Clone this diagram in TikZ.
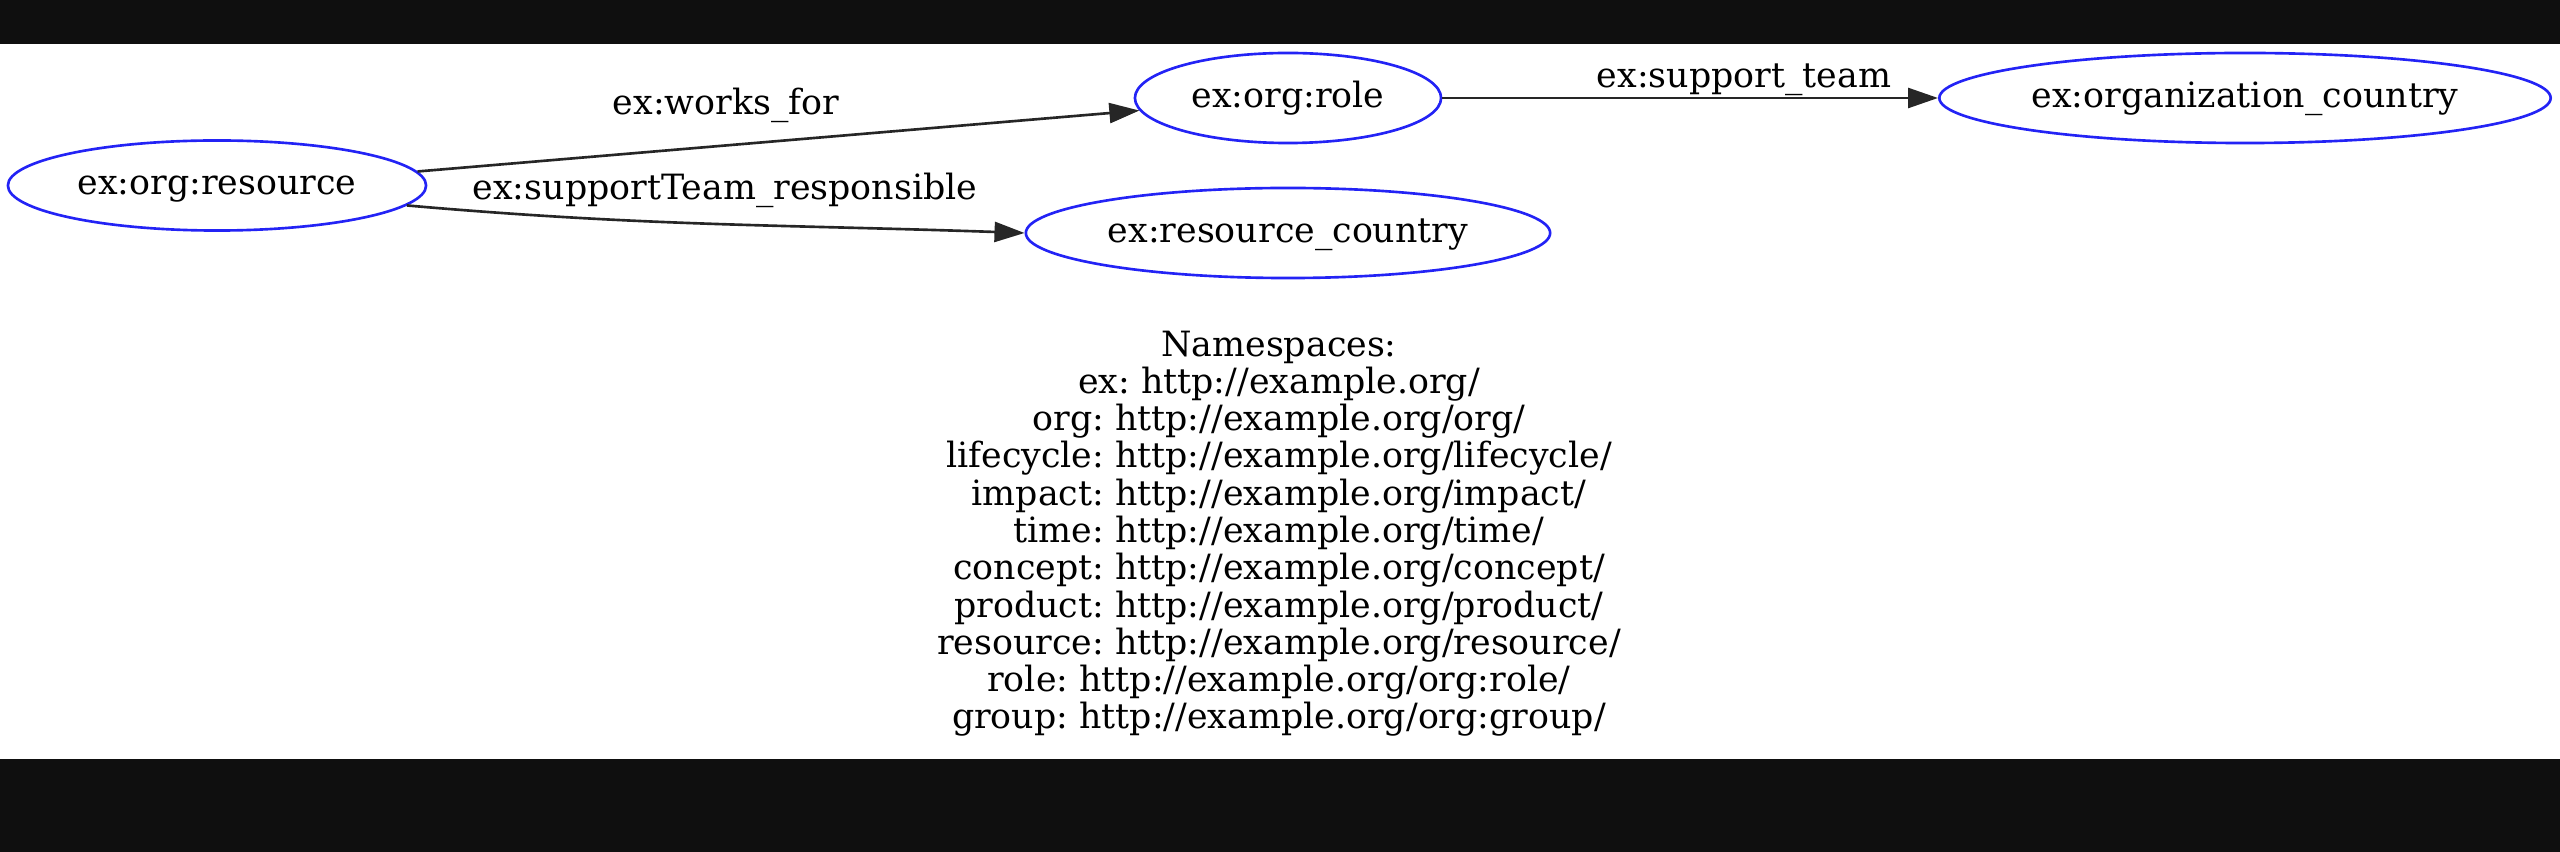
\documentclass[tikz,border=0pt]{standalone}
\usepackage{fontspec}
\setmainfont{DejaVu Serif}
\usetikzlibrary{arrows.meta,positioning,shapes.geometric}
\definecolor{gvblue}{RGB}{35,35,245}
\definecolor{barblack}{RGB}{15,15,15}
\newcommand{\gvfont}{\fontsize{9.9pt}{10.6pt}\selectfont}
\frenchspacing
\tikzset{
  res/.style  = {ellipse, draw=gvblue, line width=0.75pt, inner sep=0pt,
                 minimum height=0.9cm, font=\gvfont, text height=0.75em, text depth=0.21em},
  lbl/.style  = {inner sep=0pt, anchor=base, font=\gvfont},
  ar/.style   = {-{Triangle[length=3mm, width=2mm]}, draw=black!85, line width=0.75pt}
}
\begin{document}
\begin{tikzpicture}[x=0.01cm, y=0.01cm]
    \useasboundingbox (0,0) rectangle (2560,-852);
    \fill[barblack] (0,0) rectangle (2560,-44);
    \fill[barblack] (0,-759) rectangle (2560,-852);
    \node[res, minimum width=4.18cm] (rsrc) at (217,-185.5) {ex:org:resource};
    \node[res, minimum width=3.06cm] (role) at (1288,-98) {ex:org:role};
    \node[res, minimum width=5.24cm] (rcountry) at (1288,-233) {ex:resource\_country};
    \node[res, minimum width=6.11cm] (ocountry) at (2245,-98) {ex:organization\_country};
    \node[lbl] (wf) at (726,-115) {ex:works\_for};
    \node[lbl] (st) at (1744,-88) {ex:support\_team};
    \node[lbl] (str) at (725,-200) {ex:supportTeam\_responsible};
    \draw[ar] (rsrc.4.5) -- (role);
    \draw[ar] (role) -- (ocountry);
    \draw[ar] (rsrc.-6) to[out=-5, in=178] (rcountry.west);
    \node[inner sep=0pt, anchor=north, align=center, font=\gvfont] (ns) at (1279,-330)
      {Namespaces:\\ex: http://example.org/\\org: http://example.org/org/\\
       lifecycle: http://example.org/lifecycle/\\impact: http://example.org/impact/\\
       time: http://example.org/time/\\concept: http://example.org/concept/\\
       product: http://example.org/product/\\resource: http://example.org/resource/\\
       role: http://example.org/org:role/\\group: http://example.org/org:group/};
  \end{tikzpicture}
\end{document}
